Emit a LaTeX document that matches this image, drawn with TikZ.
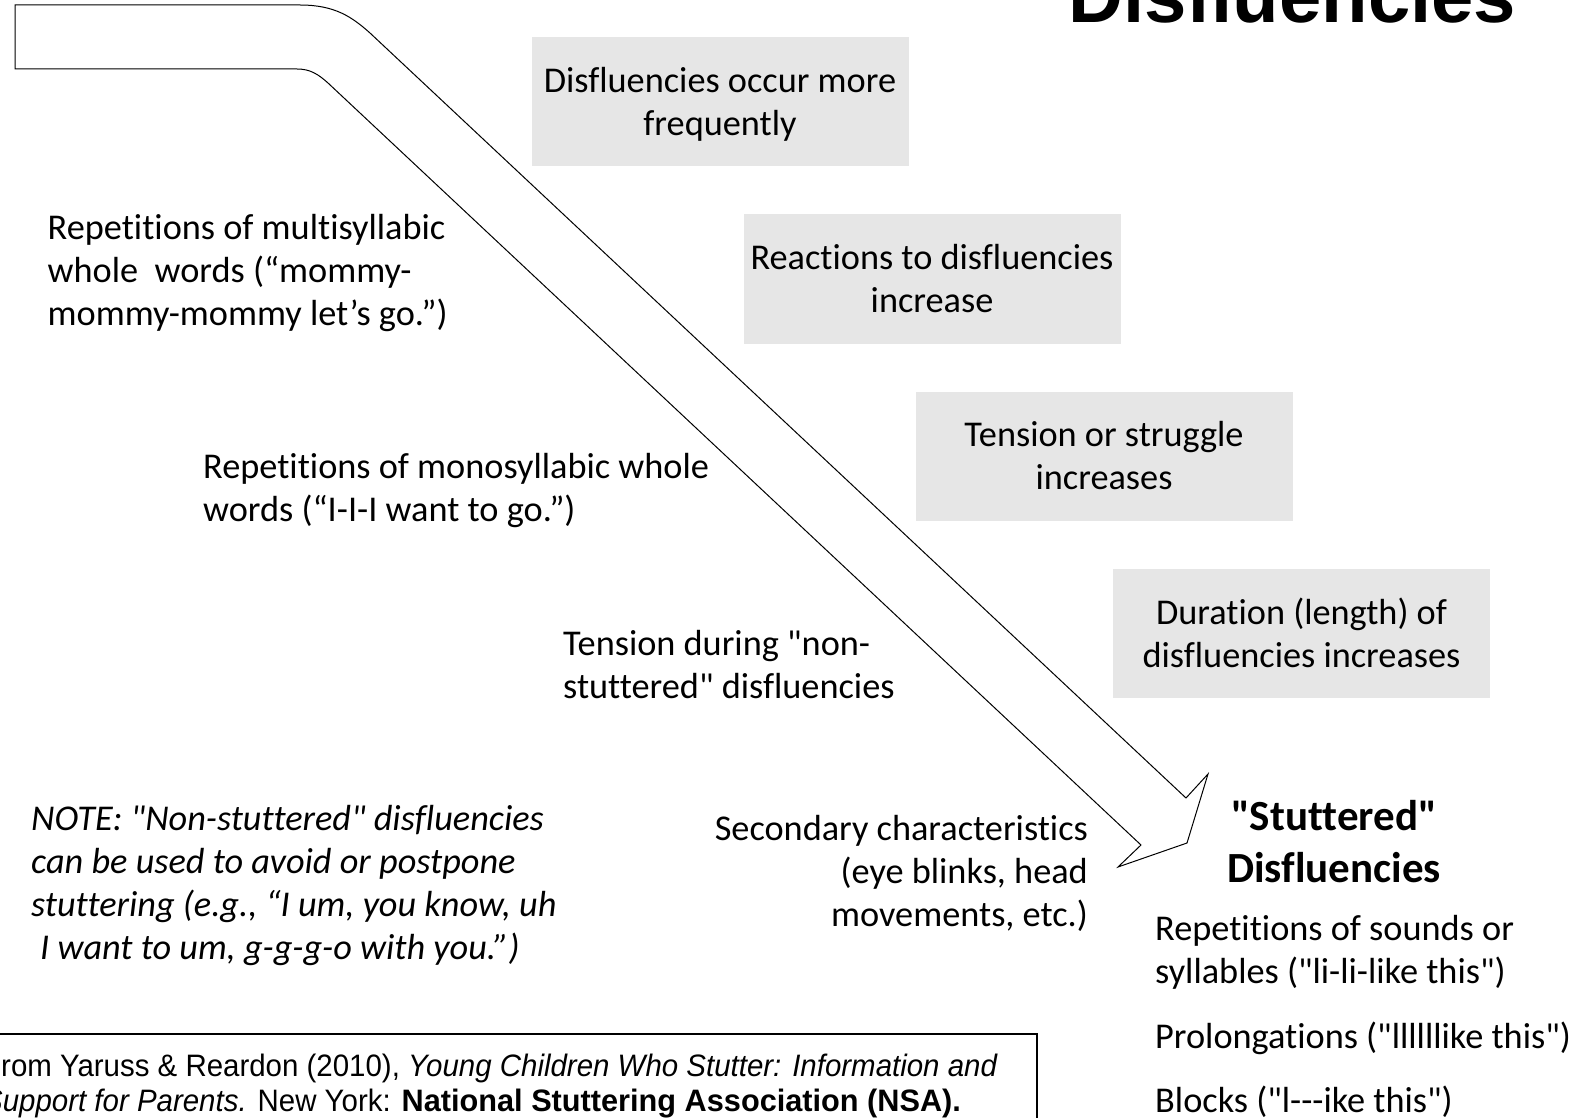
\documentclass[tikz,border=0pt]{standalone}
\usepackage{fontspec}
\setmainfont{Carlito}[Ligatures={TeXOff,CommonOff}]
\newfontfamily\titlefont{Liberation Sans}
\newfontfamily\narrowfont[FakeStretch=0.95]{Liberation Sans}
\newfontfamily\narrowboldfont[FakeStretch=0.99]{Liberation Sans}
\definecolor{boxgray}{RGB}{230,230,230}
\tikzset{
  body/.style={inner sep=0pt, font=\fontsize{36.3}{43}\selectfont},
  graybox/.style={inner sep=0pt, fill=boxgray, minimum width=377pt, minimum height=129pt},
  boxtext/.style={body, align=center},
  lefttext/.style={body, anchor=base west, align=left},
  arrowline/.style={draw=black, line width=1pt, fill=white, line join=miter},
}
\begin{document}
\begin{tikzpicture}[x=1pt,y=-1pt]
\useasboundingbox (0,0) rectangle (1585,1118);
\clip (0,0) rectangle (1585,1118);
\fill[white] (0,0) rectangle (1585,1118);

% title (cut at the top)
\node[inner sep=0pt, anchor=base west, font=\titlefont\bfseries\fontsize{76}{80}\selectfont] (title) at (1068,22.5) {Disfluencies};

% big bent arrow
\draw[arrowline] (15,5) -- (300,5) .. controls (335,5) and (352,17) .. (370,33)
  -- (1186,798) -- (1208,774) -- (1187,843) -- (1118,867) -- (1141,845)
  -- (328,83) .. controls (318,74) and (310,69) .. (297,69) -- (15,69) -- cycle;

% gray boxes
\node[graybox] (b1) at (720,101.5) {};
\node[graybox] (b2) at (932,279) {};
\node[graybox] (b3) at (1104,456.5) {};
\node[graybox] (b4) at (1301.5,633.5) {};
\node[boxtext] (b1t) at ([yshift=-3pt]b1.center) {Disfluencies occur more\\frequently};
\node[boxtext] (b2t) at (b2.center) {Reactions to disfluencies\\increase};
\node[boxtext] (b3t) at ([yshift=0.5pt]b3.center) {Tension or struggle\\increases};
\node[boxtext] (b4t) at ([yshift=1pt]b4.center) {Duration (length) of\\disfluencies increases};

% left texts (anchor = baseline of the last line)
\node[lefttext] (t1) at (47.5,325) {Repetitions of multisyllabic\\whole\ \ words (“mommy-\\mommy-mommy let’s go.”)};
\node[lefttext] (t2) at (203,521.5) {Repetitions of monosyllabic whole\\words (“I-I-I want to go.”)};
\node[lefttext] (t3) at (563,698) {Tension during "non-\\stuttered" disfluencies};
\node[lefttext, font=\fontsize{36.3}{43}\selectfont\itshape] (note) at (31,959) {NOTE: "Non-stuttered" disfluencies\\can be used to avoid or postpone\\stuttering (e.g., “I um, you know, uh\\\hspace*{9pt}I want to um, g-g-g-o with you.”)};
\node[body, anchor=base east, align=right] (sec) at (1088,926) {Secondary characteristics\\(eye blinks, head\\movements, etc.)};

% stuttered disfluencies
\node[inner sep=0pt, anchor=base, align=center, font=\bfseries\fontsize{43}{52.5}\selectfont] (head) at (1334,882.5) {"Stuttered"\\Disfluencies};
\node[lefttext] (r1) at (1155,983) {Repetitions of sounds or\\syllables ("li-li-like this")};
\node[lefttext] (r2) at (1155,1048) {Prolongations ("llllllike this")};
\node[lefttext] (r3) at (1155,1112) {Blocks ("l---ike this")};

% citation box
\draw[line width=1.5pt] (-10,1034) -- (1037,1034) -- (1037,1130);
\node[inner sep=0pt, anchor=base west, align=left, font=\narrowfont\fontsize{31}{34.5}\selectfont] (cite) at (-17,1111)
  {From Yaruss \& Reardon (2010), \textit{Young Children Who Stutter: Information and}\\\textit{Support for Parents.} New York: {\narrowboldfont\bfseries National Stuttering Association (NSA).}};
\end{tikzpicture}
\end{document}
